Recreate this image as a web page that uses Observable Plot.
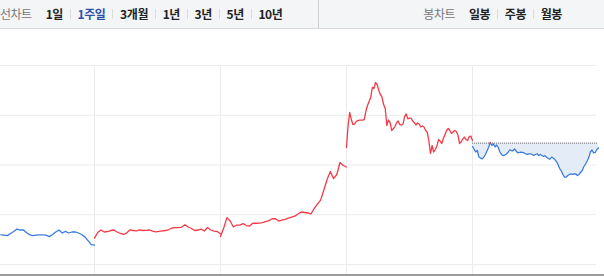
<!DOCTYPE html>
<html><head><meta charset="utf-8">
<script src="https://cdn.jsdelivr.net/npm/d3@7"></script>
<script src="https://cdn.jsdelivr.net/npm/@observablehq/plot@0.6"></script>
<style>
html,body{margin:0;padding:0;background:#fff;}
body{width:604px;height:276px;overflow:hidden;font-family:"Noto Sans CJK KR","Noto Sans",sans-serif;}
#bar{position:relative;height:28px;background:#f4f5f7;border-bottom:1px solid #d9d9db;}
#bar .grp{position:absolute;top:0;height:28px;display:flex;align-items:center;font-size:12px;line-height:28px;}
#bar .lab{color:#777;font-weight:400;margin-right:14px;letter-spacing:-0.5px;}
#bar .btn{color:#222;font-weight:700;letter-spacing:-0.4px;}
#bar .btn.on{color:#2f4fae;}
#bar .sep{width:1px;height:10px;background:#dcdcdc;margin:0 6.8px;}
#bar .vsep{position:absolute;left:318px;top:0;width:1px;height:28px;background:#d0d0d0;}
#chart{height:245px;}
#axis{border-top:2px solid #9a9a9a;}
</style></head>
<body>
<div id="bar"></div>
<div id="chart"></div>
<div id="axis"></div>
<script>
// ---- text ----
const lineChartLabel = "선차트";
const periodLabels = ["1일", "1주일", "3개월", "1년", "3년", "5년", "10년"];
const activePeriod = "1주일";
const candleChartLabel = "봉차트";
const candleLabels = ["일봉", "주봉", "월봉"];

// ---- data: 5 sessions (09:00-15:30) ----
const sessionMinutes = 390;
const sessionStep = [10, 10, 10, 5, 5];       // minutes between samples
const sessionStart = [100, 0, 0, 0, 0];       // minute of first visible sample
const day0 = [9298,9296,9291,9312,9332,9357,9347,9347,9319,9298,9291,9296,9298,9298,9296,9281,9302,9327,9347,9317,9334,9317,9327,9329,9317,9302,9278,9241,9201,9196];
const day1 = [9266,9322,9347,9327,9332,9342,9347,9327,9312,9302,9319,9349,9342,9339,9349,9342,9344,9347,9335,9329,9334,9339,9342,9352,9367,9370,9372,9377,9400,9377,9362,9342,9347,9357,9337,9372,9347,9335,9332,9309];
const day2 = [9281,9367,9472,9437,9377,9397,9397,9412,9392,9387,9415,9415,9417,9422,9432,9442,9460,9462,9437,9447,9454,9467,9477,9487,9508,9528,9523,9518,9508,9563,9608,9648,9749,9854,9935,9864,9905,10025,9995,9980];
const day3 = [10176,10397,10528,10457,10407,10412,10437,10447,10452,10452,10452,10457,10538,10598,10638,10678,10779,10769,10829,10809,10749,10709,10683,10608,10568,10397,10452,10427,10347,10364,10387,10422,10442,10407,10402,10412,10487,10513,10464,10472,10472,10442,10427,10402,10422,10412,10382,10392,10382,10347,10330,10246,10116,10196,10131,10156,10191,10256,10241,10216,10266,10307,10347,10367,10347,10317,10332,10347,10337,10302,10216,10231,10261,10281,10256,10246,10286,10291,10246];
const day4 = [10186,10161,10131,10146,10080,10070,10062,10078,10106,10141,10179,10226,10196,10211,10181,10201,10176,10131,10106,10095,10100,10111,10126,10151,10146,10143,10161,10141,10123,10126,10129,10126,10121,10111,10106,10111,10113,10106,10095,10106,10113,10095,10106,10095,10085,10095,10075,10065,10060,10080,10070,10055,10035,10005,9965,9940,9905,9879,9879,9894,9905,9910,9905,9910,9910,9894,9905,9928,9945,9985,10010,10040,10075,10131,10151,10121,10126,10156,10171];
const prevClose = 10220;
const sessions = [day0, day1, day2, day3, day4];
const sessionDirection = ["down", "up", "up", "up", "down"];
const gridPrices = [9000, 9500, 10000, 10500, 11000];
const yDomain = [8900, 11000];
const viewStart = {day: 0, minute: 99};
const viewEnd = {day: 4, minute: 384};

const RED = "#f43a46", BLUE = "#3b7bdd";

// ---- header ----
const bar = document.getElementById("bar");
function grp(left, right) {
  const g = document.createElement("div"); g.className = "grp";
  if (left != null) g.style.left = left + "px"; else g.style.right = right + "px";
  bar.appendChild(g); return g;
}
function fill(g, lab, items, active) {
  const l = document.createElement("span"); l.className = "lab"; l.textContent = lab; g.appendChild(l);
  items.forEach((t, i) => {
    if (i) { const s = document.createElement("span"); s.className = "sep"; g.appendChild(s); }
    const b = document.createElement("span"); b.className = "btn" + (t === active ? " on" : ""); b.textContent = t; g.appendChild(b);
  });
}
fill(grp(0, null), lineChartLabel, periodLabels, activePeriod);
fill(grp(null, 42), candleChartLabel, candleLabels, null);
const vs = document.createElement("div"); vs.className = "vsep"; bar.appendChild(vs);

// ---- chart ----
const T = (day, minute) => day + minute / sessionMinutes;
const pts = [];
sessions.forEach((arr, d) => {
  arr.forEach((p, i) => pts.push({day: d, t: T(d, sessionStart[d] + i * sessionStep[d]), price: p, dir: sessionDirection[d]}));
});
const lastDay = sessions.length - 1;
const last = pts.filter(d => d.day === lastDay);
const lastStart = T(lastDay, 0), lastEnd = last[last.length - 1].t;
const dayBreaks = d3.range(1, sessions.length).map(d => T(d, 0));

const chart = Plot.plot({
  width: 604, height: 245,
  marginTop: 36, marginBottom: 0, marginLeft: 0, marginRight: 8,
  x: {domain: [T(viewStart.day, viewStart.minute), T(viewEnd.day, viewEnd.minute)], axis: null},
  y: {domain: yDomain, axis: null},
  style: {background: "transparent", overflow: "visible"},
  marks: [
    Plot.ruleY(gridPrices, {stroke: "#ebebeb"}),
    Plot.ruleX(dayBreaks, {stroke: "#ebebeb"}),
    Plot.areaY(last, {x: "t", y1: () => prevClose, y2: d => Math.min(d.price, prevClose), fill: "#e4ecf8"}),
    Plot.ruleY([prevClose], {x1: () => lastStart, x2: () => lastEnd, stroke: "#666", strokeDasharray: "1,1"}),
    Plot.line(pts.filter(d => d.dir === "down"), {x: "t", y: "price", z: "day", stroke: BLUE, strokeWidth: 1.3}),
    Plot.line(pts.filter(d => d.dir === "up"), {x: "t", y: "price", z: "day", stroke: RED, strokeWidth: 1.3}),
    Plot.line(last, {x: "t", y: "price", stroke: RED, strokeWidth: 1.3})
  ]
});
document.getElementById("chart").appendChild(chart);
// last session: red only above the previous close
const yc = chart.scale("y").apply(prevClose);
const svg = d3.select(chart);
svg.append("defs").append("clipPath").attr("id", "aboveClose")
  .append("rect").attr("x", 0).attr("y", 0).attr("width", 604).attr("height", yc);
const lines = svg.selectAll('g[aria-label="line"]').nodes();
d3.select(lines[lines.length - 1]).attr("clip-path", "url(#aboveClose)");
</script>
</body></html>
